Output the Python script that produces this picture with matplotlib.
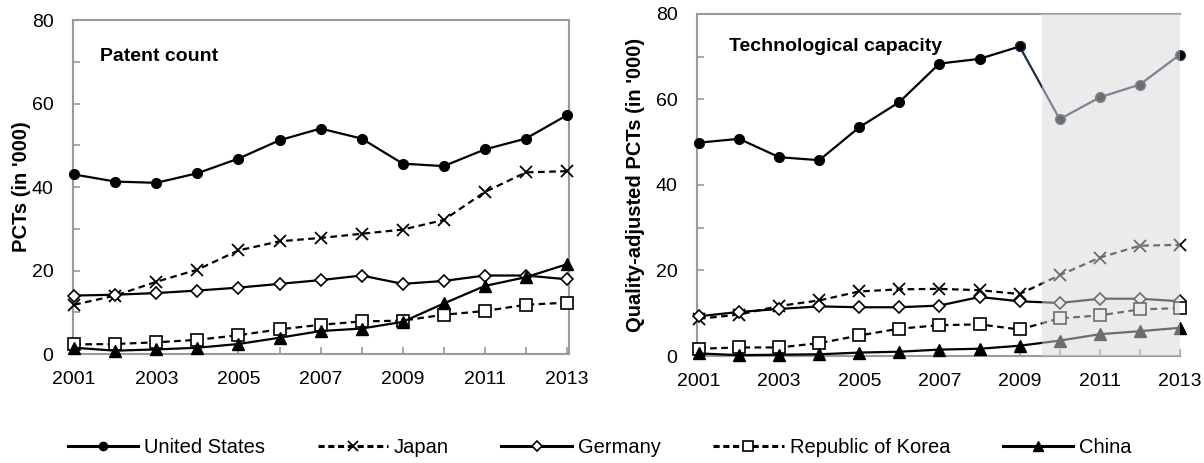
import matplotlib.pyplot as plt
from matplotlib.lines import Line2D

plt.rcParams['font.family'] = ['Liberation Sans', 'DejaVu Sans']

years = list(range(2001, 2014))
countries = ['United States', 'Japan', 'Germany', 'Republic of Korea', 'China']

# patent count (PCTs, '000)
pat_us = [43.0, 41.3, 41.0, 43.3, 46.8, 51.2, 54.0, 51.6, 45.6, 45.0, 49.0, 51.6, 57.2]
pat_jp = [11.8, 14.0, 17.3, 20.2, 24.8, 27.0, 27.8, 28.8, 29.8, 32.1, 38.8, 43.5, 43.8]
pat_de = [14.0, 14.2, 14.6, 15.2, 15.9, 16.8, 17.7, 18.8, 16.8, 17.5, 18.8, 18.8, 17.9]
pat_kr = [2.3, 2.4, 2.8, 3.4, 4.5, 5.9, 7.0, 7.8, 8.0, 9.4, 10.3, 11.8, 12.3]
pat_cn = [1.5, 0.8, 1.1, 1.5, 2.4, 3.9, 5.5, 6.1, 7.7, 12.1, 16.3, 18.4, 21.5]

# technological capacity (quality-adjusted PCTs, '000)
tec_us = [49.9, 50.8, 46.5, 45.8, 53.5, 59.4, 68.4, 69.5, 72.4, 55.4, 60.5, 63.5, 70.5]
tec_jp = [8.7, 9.7, 11.7, 13.0, 15.1, 15.6, 15.7, 15.4, 14.5, 18.9, 23.0, 25.8, 26.0]
tec_de = [9.3, 10.3, 11.0, 11.6, 11.4, 11.4, 11.8, 13.8, 12.8, 12.4, 13.4, 13.4, 12.8]
tec_kr = [1.7, 2.0, 2.0, 3.0, 4.8, 6.4, 7.2, 7.4, 6.2, 8.8, 9.5, 10.9, 11.2]
tec_cn = [0.6, 0.2, 0.3, 0.4, 0.8, 1.0, 1.5, 1.7, 2.4, 3.6, 5.1, 5.8, 6.6]

styles = {
    'United States': dict(marker='o', ls='-', mfc='black', ms=7),
    'Japan': dict(marker='x', ls='--', mfc='black', ms=8, mew=1.3),
    'Germany': dict(marker='D', ls='-', mfc='white', ms=6.5, mew=1.2),
    'Republic of Korea': dict(marker='s', ls='--', mfc='white', ms=9, mew=1.2),
    'China': dict(marker='^', ls='-', mfc='black', ms=8.5),
}
spine_col = '#9a9a9a'
fs = 14


def draw_line(ax, y, name, color='black', x=years):
    st = styles[name]
    kw = dict(color=color, lw=1.6, marker=st['marker'], ms=st['ms'], mfc=st['mfc'],
              mec=color, mew=st.get('mew', 1.0), clip_on=False, zorder=3)
    if st['ls'] == '--':
        kw['dashes'] = (3, 2)
    ax.plot(x, y, **kw)


def style_axes(ax):
    ax.set_ylim(0, 80)
    ax.set_yticks(range(0, 81, 10))
    ax.set_yticklabels([str(v) if v % 20 == 0 else '' for v in range(0, 81, 10)])
    ax.set_xticks(years)
    ax.set_xticklabels([str(y) if y % 2 == 1 else '' for y in years])
    ax.tick_params(direction='in', length=5, width=1.2, color=spine_col, labelsize=fs, pad=12)
    ax.tick_params(axis='y', pad=14)
    for s in ax.spines.values():
        s.set_color(spine_col)
        s.set_linewidth(1.5)


fig = plt.figure(figsize=(12.04, 4.63), dpi=100)

ax1 = fig.add_axes([0.0606, 0.2354, 0.412, 0.7214])
draw_line(ax1, pat_us, 'United States')
draw_line(ax1, pat_jp, 'Japan')
draw_line(ax1, pat_de, 'Germany')
draw_line(ax1, pat_kr, 'Republic of Korea')
draw_line(ax1, pat_cn, 'China')
style_axes(ax1)
ax1.set_xlim(2000.97, 2013.05)
ax1.set_ylabel("PCTs (in '000)", fontsize=fs + 0.5, fontweight='bold')
ax1.yaxis.set_label_coords(-0.085, 0.5)
ax1.text(0.054, 0.89, 'Patent count', transform=ax1.transAxes, fontsize=fs,
         fontweight='bold', va='center')

ax2 = fig.add_axes([0.5789, 0.2311, 0.4011, 0.7387])
draw_line(ax2, tec_us[:9], 'United States', x=years[:9])
draw_line(ax2, tec_us[8:], 'United States', color='#1b2f4a', x=years[8:])
draw_line(ax2, tec_jp, 'Japan')
draw_line(ax2, tec_de, 'Germany')
draw_line(ax2, tec_kr, 'Republic of Korea')
draw_line(ax2, tec_cn, 'China')
style_axes(ax2)
ax2.spines['right'].set_visible(False)
ax2.set_xlim(2000.95, 2013)
# lighter overlay for the most recent years
ax2.axvspan(2009.55, 2013, color='#d8d8d8', alpha=0.51, lw=0, zorder=10)
ax2.set_ylabel("Quality-adjusted PCTs (in '000)", fontsize=fs + 0.5, fontweight='bold')
ax2.yaxis.set_label_coords(-0.107, 0.5)
ax2.text(0.066, 0.905, 'Technological capacity', transform=ax2.transAxes, fontsize=fs,
         fontweight='bold', va='center')

handles = []
for name in countries:
    st = styles[name]
    kw = dict(color='black', lw=2.2, marker=st['marker'], ms=st['ms'] * 0.85,
              mfc=st['mfc'], mec='black', mew=st.get('mew', 1.0))
    if st['ls'] == '--':
        kw['dashes'] = (2, 1.2)
    handles.append(Line2D([], [], **kw))
fig.legend(handles, countries, loc='center', bbox_to_anchor=(0.498, 0.033), ncol=5,
           frameon=False, fontsize=14.5, handlelength=3.5, columnspacing=2.6, handletextpad=0.3)

fig.savefig('out.png', dpi=100)
